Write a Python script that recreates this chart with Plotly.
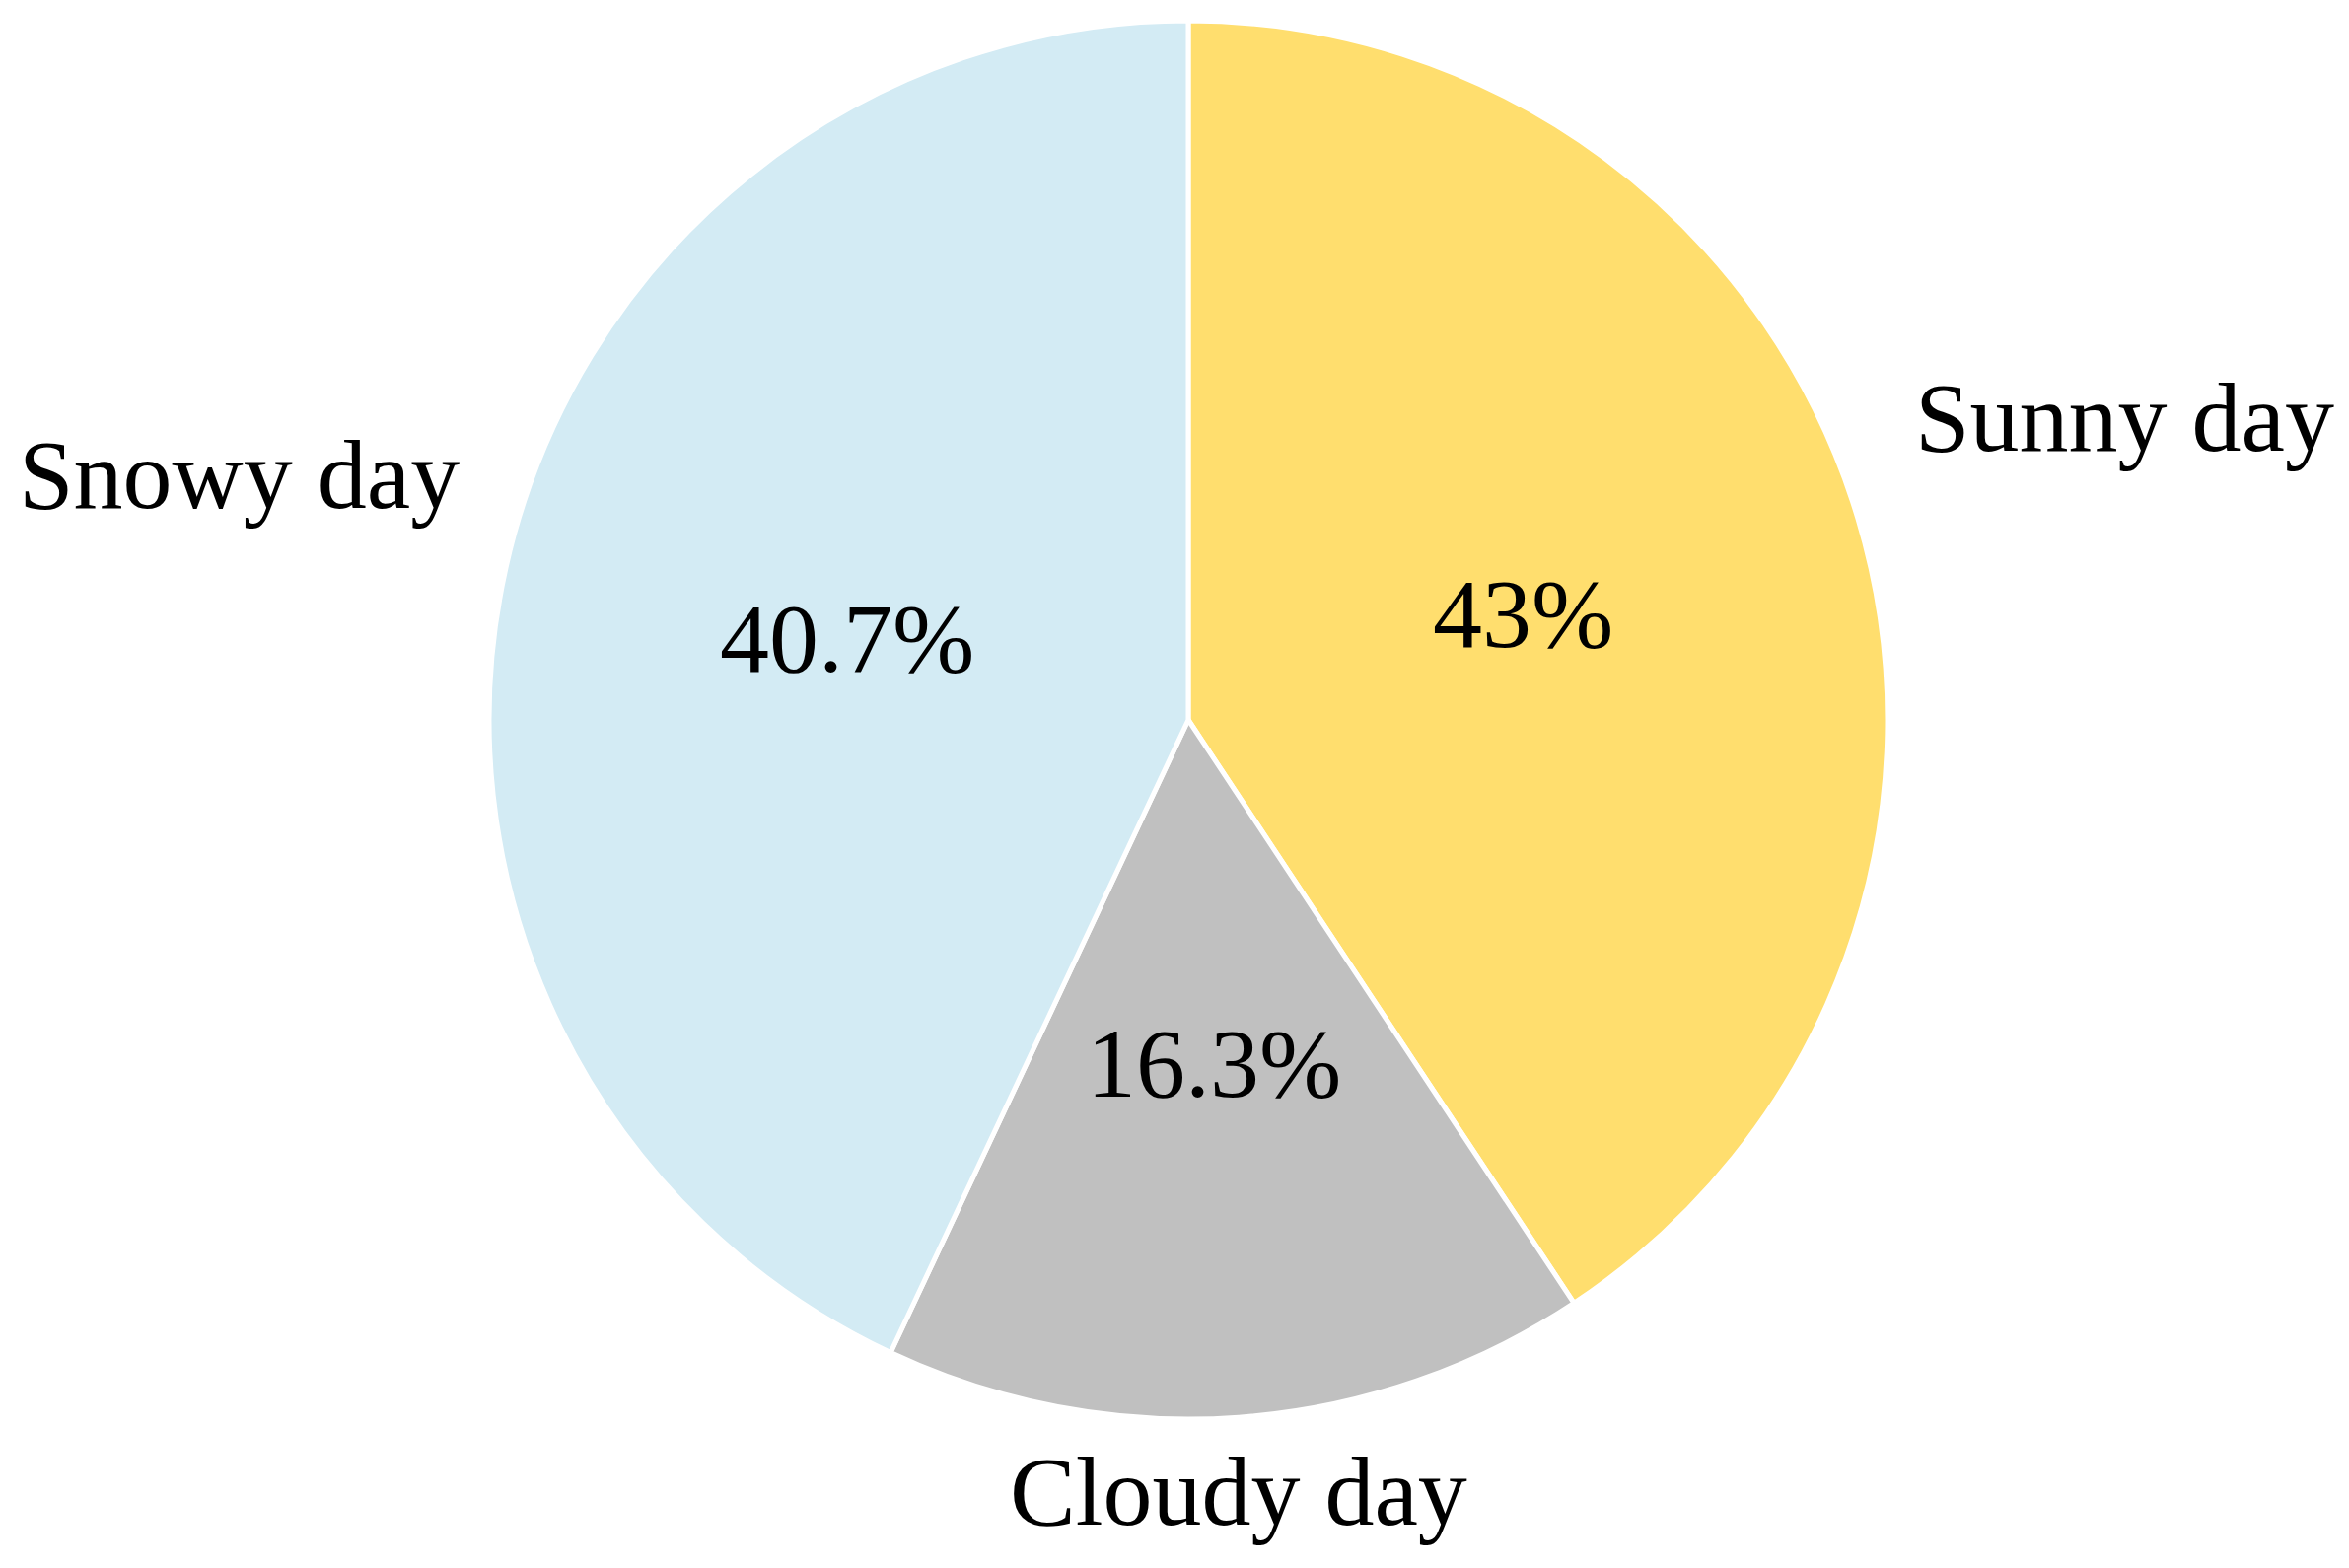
import math
import plotly.graph_objects as go

# ---- data ----
labels = ["Sunny day", "Cloudy day", "Snowy day"]
sizes = [40.7, 16.3, 43.0]            # slice sizes as drawn
pct_text = ["43%", "16.3%", "40.7%"]  # percentage texts as printed
colors = ["#FFDE6E", "#C0C0C0", "#D3EBF4"]

# ---- layout geometry ----
W, H = 2382, 1590
cx, cy, R = 1205, 730, 709
FONT = "Liberation Serif"

fig = go.Figure()
fig.add_trace(go.Pie(
    labels=labels,
    values=sizes,
    sort=False,
    direction="clockwise",
    rotation=0,
    marker=dict(colors=colors, line=dict(color="white", width=5)),
    textinfo="none",
    hoverinfo="label+percent",
    showlegend=False,
    domain=dict(x=[(cx - R) / W, (cx + R) / W],
                y=[1 - (cy + R) / H, 1 - (cy - R) / H]),
))

# percentage texts at half radius along each slice's mid angle
total = sum(sizes)
cum = 0.0
for s, t in zip(sizes, pct_text):
    mid = (cum + s / 2) / total * 2 * math.pi
    cum += s
    px = cx + 0.5 * R * math.sin(mid)
    py = cy - 0.5 * R * math.cos(mid) - 5
    fig.add_annotation(x=px / W, y=1 - py / H, xref="paper", yref="paper",
                       text=t, showarrow=False, xanchor="center", yanchor="middle",
                       font=dict(family=FONT, size=100, color="black"))

# category labels outside the pie
label_pos = {
    "Sunny day": (1940, 423, "left"),
    "Cloudy day": (1256, 1512, "center"),
    "Snowy day": (468, 482, "right"),
}
for name in labels:
    x, y, anc = label_pos[name]
    fig.add_annotation(x=x / W, y=1 - y / H, xref="paper", yref="paper",
                       text=name, showarrow=False, xanchor=anc, yanchor="middle",
                       font=dict(family=FONT, size=100, color="black"))

fig.update_layout(
    width=W, height=H,
    margin=dict(l=0, r=0, t=0, b=0),
    paper_bgcolor="white",
    plot_bgcolor="white",
)

fig.write_html("out.html",
               config={"displayModeBar": False},
               post_script="document.body.style.margin='0';document.body.style.overflow='hidden';")
